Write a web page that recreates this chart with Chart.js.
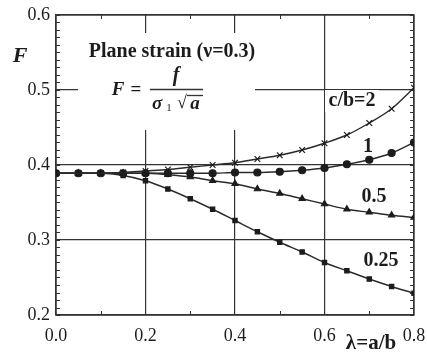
<!DOCTYPE html>
<html><head><meta charset="utf-8">
<script src="https://cdn.jsdelivr.net/npm/chart.js@4"></script>
<style>html,body{margin:0;padding:0;background:#fff}#wrap{width:427px;height:358px}</style>
</head><body><div id="wrap"><canvas id="c" width="427" height="358"></canvas></div>
<script>
const lambdas = [0,0.05,0.1,0.15,0.2,0.25,0.3,0.35,0.4,0.45,0.5,0.55,0.6,0.65,0.7,0.75,0.8];
const cb2   = [0.389,0.389,0.389,0.390,0.392,0.394,0.397,0.400,0.403,0.408,0.413,0.420,0.429,0.440,0.456,0.475,0.503];
const cb1   = [0.389,0.389,0.389,0.389,0.389,0.389,0.389,0.389,0.390,0.390,0.391,0.393,0.396,0.401,0.407,0.416,0.430];
const cb05  = [0.389,0.389,0.389,0.389,0.389,0.387,0.384,0.379,0.375,0.368,0.362,0.355,0.348,0.341,0.337,0.333,0.330];
const cb025 = [0.389,0.389,0.389,0.386,0.379,0.368,0.355,0.341,0.326,0.311,0.297,0.284,0.270,0.259,0.248,0.238,0.229];
const seriesLabels = ['c/b=2','1','0.5','0.25'];
const xTicks = [0,0.2,0.4,0.6,0.8];
const yTicks = [0.2,0.3,0.4,0.5,0.6];

const serif = "'Liberation Serif', 'DejaVu Serif', serif";
const ink = '#1c1c1c';
function pts(arr){ return lambdas.map((x,i)=>({x:x,y:arr[i]})); }
function ds(label, arr, style, r){
  return {label:label, data:pts(arr), borderColor:'#2a2a2a', backgroundColor:'#1c1c1c', borderWidth:1.4,
    pointStyle:style, pointRadius:r, pointBorderColor:'#1c1c1c', pointBackgroundColor:'#1c1c1c', pointBorderWidth:1.2,
    cubicInterpolationMode:'monotone', fill:false};
}

const overlay = {
  id:'overlay',
  beforeDatasetsDraw(chart){
    const ctx = chart.ctx, a = chart.chartArea, xs = chart.scales.x, ys = chart.scales.y;
    ctx.save();
    ctx.fillStyle = '#fff';
    ctx.fillRect(78, 33, 177, 97);
    ctx.fillRect(325, 90, 54, 22);
    ctx.strokeStyle = '#333'; ctx.lineWidth = 1.3;
    ctx.strokeRect(a.left, a.top, a.right-a.left, a.bottom-a.top);
    ctx.lineWidth = 1;
    for (let v = 0.2; v <= 0.6001; v += 0.01) {
      const y = Math.round(ys.getPixelForValue(v)) + 0.5;
      ctx.beginPath(); ctx.moveTo(a.left, y); ctx.lineTo(a.left+4, y); ctx.stroke();
      ctx.beginPath(); ctx.moveTo(a.right, y); ctx.lineTo(a.right-4, y); ctx.stroke();
    }
    for (let v = 0.1; v < 0.8; v += 0.2) {
      const x = Math.round(xs.getPixelForValue(v)) + 0.5;
      ctx.beginPath(); ctx.moveTo(x, a.bottom); ctx.lineTo(x, a.bottom-4); ctx.stroke();
      ctx.beginPath(); ctx.moveTo(x, a.top); ctx.lineTo(x, a.top+4); ctx.stroke();
    }
    ctx.fillStyle = ink; ctx.textBaseline = 'middle'; ctx.textAlign = 'center';
    ctx.font = "italic bold 22px " + serif;
    ctx.fillText('F', 20, 56);
    ctx.font = "bold 20px " + serif;
    ctx.fillText('Plane strain (\u03bd=0.3)', 172, 52);
    ctx.font = "italic bold 19px " + serif;
    ctx.fillText('F', 118, 90);
    ctx.font = "bold 19px " + serif;
    ctx.fillText('=', 136, 90);
    ctx.font = "italic bold 20px " + serif;
    ctx.fillText('f', 176, 76);
    ctx.lineWidth = 1.3;
    ctx.beginPath(); ctx.moveTo(150, 89.5); ctx.lineTo(203, 89.5); ctx.stroke();
    ctx.font = "italic bold 19px " + serif;
    ctx.fillText('\u03c3', 157, 104);
    ctx.font = "11px " + serif;
    ctx.fillText('1', 169, 108);
    ctx.font = "18px " + serif;
    ctx.fillText('\u221a', 182, 103);
    ctx.font = "italic bold 19px " + serif;
    ctx.fillText('a', 195, 104);
    ctx.beginPath(); ctx.moveTo(187, 95.5); ctx.lineTo(203, 95.5); ctx.stroke();
    ctx.font = "bold 20px " + serif;
    ctx.fillText(seriesLabels[0], 352, 101);
    ctx.fillText(seriesLabels[1], 368, 147);
    ctx.fillText(seriesLabels[2], 374, 197);
    ctx.fillText(seriesLabels[3], 381, 261);
    ctx.font = "bold 21px " + serif;
    ctx.fillText('\u03bb=a/b', 371, 344);
    ctx.restore();
  }
};

new Chart(document.getElementById('c'), {
  type:'line',
  data:{ datasets:[
    ds(seriesLabels[0], cb2, 'crossRot', 4),
    ds(seriesLabels[1], cb1, 'circle', 3.5),
    ds(seriesLabels[2], cb05, 'triangle', 3.5),
    ds(seriesLabels[3], cb025, 'rect', 3)
  ]},
  plugins:[overlay],
  options:{
    responsive:false, animation:false, devicePixelRatio:1,
    layout:{padding:{top:15, right:13, left:0, bottom:0}},
    plugins:{legend:{display:false}, tooltip:{enabled:false}},
    scales:{
      x:{type:'linear', min:0, max:0.8,
        afterBuildTicks(s){ s.ticks = xTicks.map(v=>({value:v})); },
        afterFit(s){ s.height = 43; s.paddingLeft = 0; s.paddingRight = 0; },
        grid:{color:'#333', lineWidth:1.2, drawTicks:false},
        border:{display:true, color:'#333', width:1.2},
        ticks:{color:ink, font:{family:serif, size:18}, padding:10, maxRotation:0,
          callback:(v)=>Number(v).toFixed(1)}
      },
      y:{type:'linear', min:0.2, max:0.6,
        afterBuildTicks(s){ s.ticks = yTicks.map(v=>({value:v})); },
        afterFit(s){ s.width = 56; s.paddingTop = 0; s.paddingBottom = 0; },
        grid:{color:'#333', lineWidth:1.2, drawTicks:false},
        border:{display:true, color:'#333', width:1.2},
        ticks:{color:ink, font:{family:serif, size:18}, padding:6,
          callback:(v)=>Number(v).toFixed(1)}
      }
    }
  }
});
</script></body></html>
